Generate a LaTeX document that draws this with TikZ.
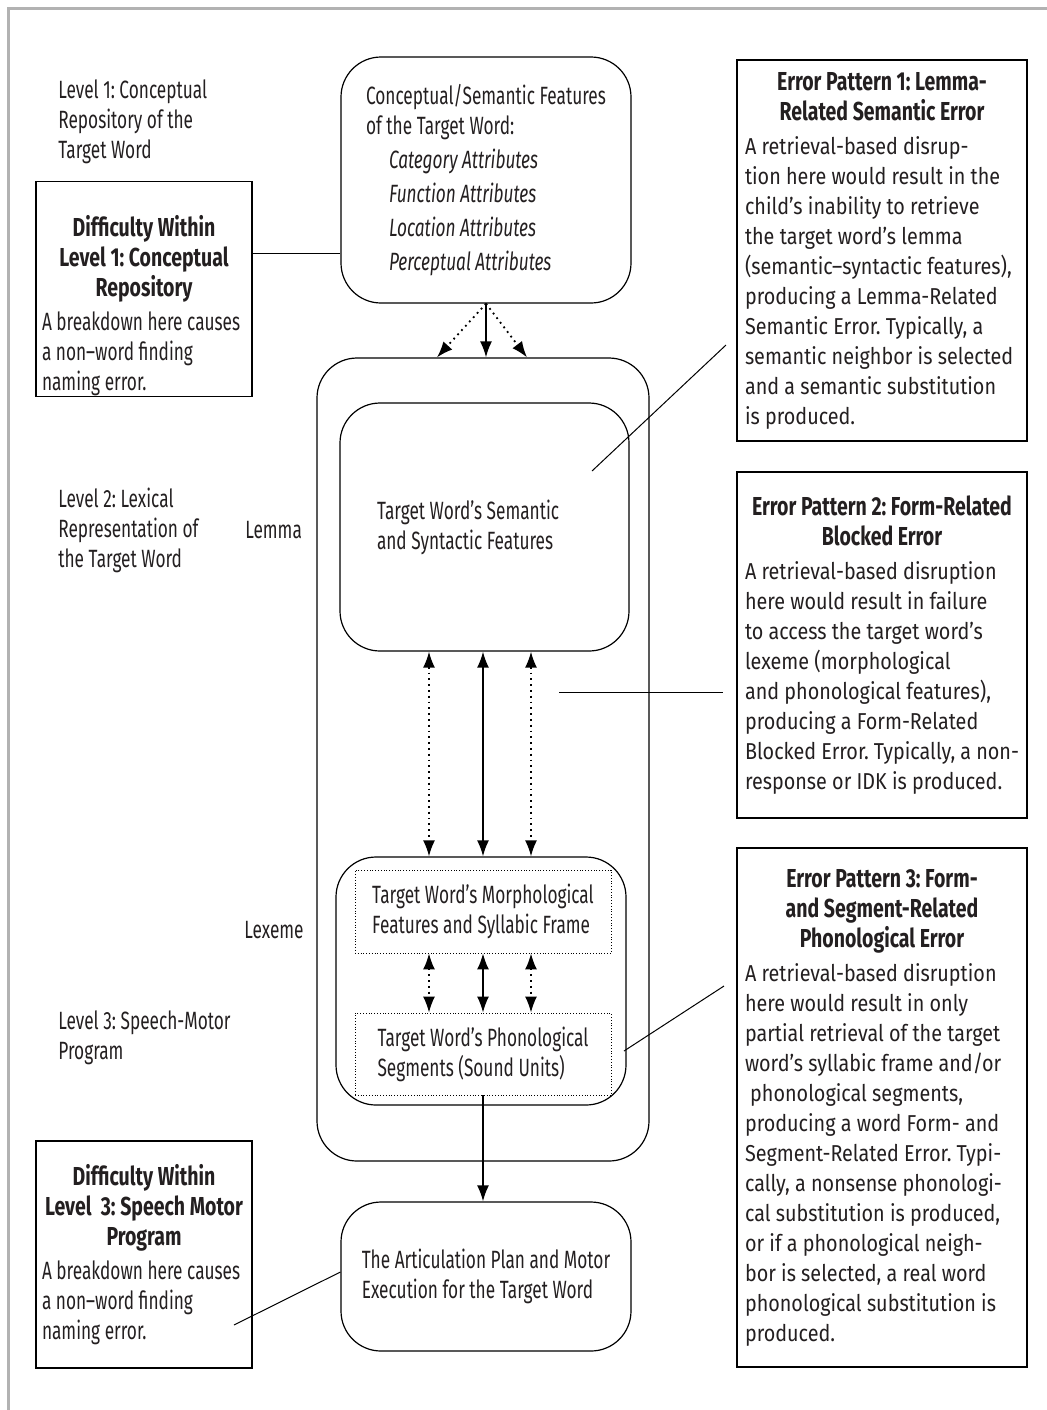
\documentclass[tikz,border=0pt]{standalone}
\usepackage{fontspec}
\setmainfont{Fira Sans}[Ligatures=TeX,FakeStretch=0.69,BoldFeatures={FakeStretch=0.75}]
\newfontfamily\bodyfont{Fira Sans}[Ligatures=TeX,FakeStretch=0.86]
\usetikzlibrary{arrows.meta}
\definecolor{ink}{HTML}{231F20}
\frenchspacing
\newcommand{\boxhead}[2][0pt]{\spaceskip=0pt\xspaceskip=0pt
  {\centering\normalfont\bfseries\fontsize{13}{15}\selectfont\rule{0pt}{#1}#2\par}\vspace{2pt}}

\begin{document}
\begin{tikzpicture}[x=0.5pt,y=-0.5pt,text=ink,
    font=\fontsize{12.5}{15}\selectfont,
    >={Latex[length=8pt,width=6pt]},
    rbox/.style={draw,rounded corners=20pt,line width=0.6pt},
    sqbox/.style={draw,rectangle,line width=0.6pt,inner xsep=4pt,align=left},
    dotbox/.style={draw,densely dotted,line width=0.4pt,align=left},
    lvl/.style={anchor=west,inner sep=0pt,align=left},
    solarr/.style={line width=0.9pt},
    dotarr/.style={line width=0.9pt,dotted}] % lexical access model
  \useasboundingbox (0,0) rectangle (1047,1410);
  \draw[black!30,line width=1.5pt] (8,1410) -- (8,8) -- (1047,8);

  % level labels
  \node[lvl] (lv1) at (58,122) {Level 1: Conceptual\\Repository of the\\Target Word};
  \node[lvl] (lv2) at (58,530) {Level 2: Lexical\\Representation of\\the Target Word};
  \node[lvl] (lv3) at (58,1038) {Level 3: Speech-Motor\\Program};
  \node[lvl] (lem) at (245,530) {Lemma};
  \node[lvl] (lex) at (244,930) {Lexeme};

  % central column
  \node[rbox,minimum width=145pt,minimum height=123pt,align=left] (concept) at (486,180)
    {Conceptual/Semantic Features\\of the Target Word:\\[2pt]
     \hspace*{11.5pt}\textit{Category Attributes}\\[2pt]
     \hspace*{11.5pt}\textit{Function Attributes}\\[2pt]
     \hspace*{11.5pt}\textit{Location Attributes}\\[2pt]
     \hspace*{11.5pt}\textit{Perceptual Attributes}};
  \node[rbox,minimum width=166pt,minimum height=401.5pt] (outer) at (483,759.5) {};
  \node[rbox,minimum width=144.5pt,minimum height=124pt,align=left,inner xsep=18.5pt,text width=107.5pt] (lemma) at (484.5,527)
    {\spaceskip=0pt\xspaceskip=0pt Target Word's Semantic\\and Syntactic Features};
  \node[rbox,minimum width=145pt,minimum height=124pt] (lexeme) at (481,981) {};
  \node[dotbox,minimum width=128pt,minimum height=41.5pt] (morph) at (483,911.5)
    {Target Word's Morphological\\Features and Syllabic Frame};
  \node[dotbox,minimum width=128pt,minimum height=41pt] (phon) at (483,1054)
    {Target Word's Phonological\\Segments (Sound Units)};
  \node[rbox,minimum width=145pt,minimum height=74.5pt,align=left] (artic) at (486,1276.5)
    {The Articulation Plan and Motor\\Execution for the Target Word};

  % arrow columns
  \coordinate (cl) at (429,0);
  \coordinate (cm) at (483,0);
  \coordinate (cr) at (531,0);
  \draw[solarr,->] (concept.south) -- (concept.south |- outer.north);
  \draw[dotarr,->] (concept.south) -- ([xshift=-23pt]outer.north);
  \draw[dotarr,->] (concept.south) -- ([xshift=22pt]outer.north);
  \draw[dotarr,<->] (lemma.south -| cl) -- (lexeme.north -| cl);
  \draw[solarr,<->] (lemma.south -| cm) -- (lexeme.north -| cm);
  \draw[dotarr,<->] (lemma.south -| cr) -- (lexeme.north -| cr);
  \draw[dotarr,<->] (morph.south -| cl) -- (phon.north -| cl);
  \draw[solarr,<->] (morph.south -| cm) -- (phon.north -| cm);
  \draw[dotarr,<->] (morph.south -| cr) -- (phon.north -| cr);
  \draw[solarr,->] (phon.south) -- (phon.south |- artic.north);

  % difficulty boxes
  \node[sqbox,inner xsep=3pt,inner ysep=0.5pt,text width=102pt,minimum height=106pt] (diff1) at (144,289)
    {\boxhead[27pt]{Difficulty Within\\Level 1: Conceptual\\Repository}
     A breakdown here causes\\a non--word finding\\naming error.};
  \node[sqbox,inner xsep=3pt,text width=102pt,minimum height=113.5pt] (diff3) at (144,1254.5)
    {\boxhead{Difficulty Within\\Level\ \ 3: Speech Motor\\Program}
     A breakdown here causes\\a non--word finding\\naming error.};

  % error pattern boxes
  \node[sqbox,text width=137pt,minimum height=190.5pt,font=\bodyfont\fontsize{11.5}{15}\selectfont] (err1) at (882,250.5)
    {\boxhead{Error Pattern 1: Lemma-\\Related Semantic Error}
     A retrieval-based disrup-\\tion here would result in the\\child's inability to retrieve\\the target word's lemma\\(semantic--syntactic features),\\producing a Lemma-Related\\Semantic Error. Typically, a\\semantic neighbor is selected\\and a semantic substitution\\is produced.};
  \node[sqbox,text width=137pt,minimum height=173pt,font=\bodyfont\fontsize{11.5}{15}\selectfont] (err2) at (882,645)
    {\boxhead{Error Pattern 2: Form-Related\\Blocked Error}
     A retrieval-based disruption\\here would result in failure\\to access the target word's\\lexeme (morphological\\and phonological features),\\producing a Form-Related\\Blocked Error. Typically, a non-\\response or IDK is produced.};
  \node[sqbox,text width=137pt,minimum height=259.5pt,font=\bodyfont\fontsize{11.5}{15}\selectfont] (err3) at (882,1107.5)
    {\boxhead{Error Pattern 3: Form-\\and Segment-Related\\Phonological Error}
     A retrieval-based disruption\\here would result in only\\partial retrieval of the target\\word's syllabic frame and/or\\\ phonological segments,\\producing a word Form- and\\Segment-Related Error. Typi-\\cally, a nonsense phonologi-\\cal substitution is produced,\\or if a phonological neigh-\\bor is selected, a real word\\phonological substitution is\\produced.};

  % pointer lines
  \coordinate (k1) at (252,253);
  \draw[line width=0.5pt] (k1) -- (k1 -| concept.west);
  \coordinate (k2) at (592,471);
  \coordinate (k3) at (726,345);
  \draw[line width=0.5pt] (k2) -- (k3);
  \coordinate (k4) at (559,692);
  \draw[line width=0.5pt] (k4) -- ([xshift=-6.5pt]err2.west |- k4);
  \coordinate (k5) at (624,1051);
  \coordinate (k6) at (724,986);
  \draw[line width=0.5pt] (k5) -- (k6);
  \coordinate (k7) at (234,1325);
  \draw[line width=0.5pt] (k7) -- (artic.west |- 0,1272);
\end{tikzpicture}
\end{document}
